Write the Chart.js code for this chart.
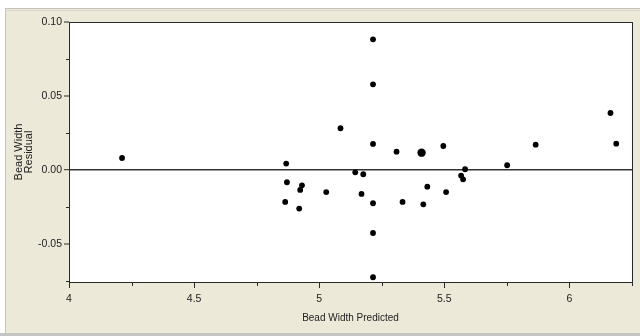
<!DOCTYPE html>
<html>
<head>
<meta charset="utf-8">
<script src="https://cdn.jsdelivr.net/npm/chart.js@4"></script>
<style>
  html, body { margin: 0; padding: 0; background: #fff; }
  #wrap { width: 640px; height: 336px; }
</style>
</head>
<body>
<div id="wrap"><canvas id="c" width="640" height="336"></canvas></div>
<script>
// ---- data ----
const predicted = [4.212, 4.868, 4.871, 4.864, 4.931, 4.924, 4.920, 5.028, 5.085, 5.144, 5.176, 5.169,
  5.215, 5.215, 5.215, 5.215, 5.215, 5.215, 5.309, 5.409, 5.496, 5.333, 5.416, 5.432, 5.507,
  5.583, 5.567, 5.575, 5.751, 5.865, 6.164, 6.187];
const residual = [0.0081, 0.0043, -0.0083, -0.0216, -0.0104, -0.0135, -0.0261, -0.0149, 0.0282, -0.0016, -0.0029, -0.0162,
  0.0176, -0.0225, -0.0426, -0.0725, 0.0883, 0.0579, 0.0124, 0.0117, 0.0162, -0.0216, -0.0232, -0.0113, -0.0149,
  0.0005, -0.0038, -0.0063, 0.0032, 0.0171, 0.0385, 0.0178];
const overlapCount = [1,1,1,1,1,1,1,1,1,1,1,1, 1,1,1,1,1,1,1,2,1,1,1,1,1, 1,1,1,1,1,1,1];

const xMajorTicks = [4, 4.5, 5, 5.5, 6];
const xTickLabels = ['4', '4.5', '5', '5.5', '6'];
const xMinorTicks = [4.25, 4.75, 5.25, 5.75, 6.25];
const yMajorTicks = [0.10, 0.05, 0, -0.05];
const yTickLabels = ['0.10', '0.05', '0.00', '-0.05'];
const yMinorTicks = [0.075, 0.025, -0.025, -0.075];
const xRange = [4, 6.25];
const yRange = [-0.0757, 0.10];
const xTitle = 'Bead Width Predicted';
const yTitle = ['Bead Width', 'Residual'];

const points = predicted.map((x, i) => ({ x: x, y: residual[i], n: overlapCount[i] }));

const AXIS = '#2a2a2a';
const FONT = "'Liberation Sans', Arial, sans-serif";

const frame = {
  id: 'frame',
  beforeDraw(chart) {
    const c = chart.ctx;
    c.save();
    c.fillStyle = '#ffffff';
    c.fillRect(0, 0, 640, 336);
    c.fillStyle = '#ECE9D8';
    c.fillRect(5, 8, 635, 325);
    c.fillStyle = '#C6C4BA';
    c.fillRect(5, 8, 635, 1);
    c.fillRect(5, 8, 1, 325);
    c.fillStyle = '#DAD8CE';
    c.fillRect(5, 10, 635, 1);
    c.fillStyle = '#C4C4C4';
    c.fillRect(0, 333, 640, 3);
    const a = chart.chartArea;
    c.fillStyle = '#ffffff';
    c.fillRect(a.left, a.top, a.right - a.left, a.bottom - a.top);
    c.restore();
  },
  afterDatasetsDraw(chart) {
    const c = chart.ctx;
    const a = chart.chartArea;
    const xs = chart.scales.x, ys = chart.scales.y;
    const L = Math.round(a.left), R = Math.round(a.right), T = Math.round(a.top), B = Math.round(a.bottom);
    c.save();
    c.fillStyle = AXIS;
    c.fillRect(L, T, R - L + 1, 1);       // top
    c.fillRect(L, B, R - L + 1, 1);       // bottom axis
    c.fillRect(L, T, 1, B - T + 1);       // left axis
    c.fillRect(R, T, 1, B - T + 1);       // right
    xMinorTicks.forEach(v => {
      const px = Math.round(xs.getPixelForValue(v));
      c.fillRect(Math.min(px, R), B, 1, 4);
    });
    yMinorTicks.forEach(v => {
      const py = Math.round(ys.getPixelForValue(v));
      c.fillRect(L - 3, Math.min(py, B), 3, 1);
    });
    c.restore();
  }
};

new Chart(document.getElementById('c'), {
  type: 'scatter',
  data: {
    datasets: [{
      data: points,
      backgroundColor: '#000',
      borderColor: '#000',
      borderWidth: 0,
      pointRadius: ctx => (ctx.raw && ctx.raw.n > 1) ? 4.2 : 2.9,
      pointHoverRadius: ctx => (ctx.raw && ctx.raw.n > 1) ? 4.2 : 2.9
    }]
  },
  options: {
    responsive: false,
    animation: false,
    devicePixelRatio: 1,
    layout: { padding: { top: 22, right: 8, left: 0, bottom: 0 } },
    plugins: { legend: { display: false }, tooltip: { enabled: false } },
    scales: {
      x: {
        type: 'linear',
        min: xRange[0], max: xRange[1],
        afterFit: s => { s.height = 54; },
        afterBuildTicks: s => { s.ticks = xMajorTicks.map(v => ({ value: v })); },
        border: { display: false },
        grid: { drawOnChartArea: false, drawTicks: true, tickLength: 6, tickColor: AXIS, tickWidth: 1 },
        ticks: {
          autoSkip: false, maxRotation: 0, padding: 5,
          color: '#222', font: { family: FONT, size: 10.5 },
          callback: (v, i) => xTickLabels[i]
        },
        title: {
          display: true, text: xTitle, color: '#222',
          font: { family: FONT, size: 10 }, padding: { top: 0, bottom: 12 }
        }
      },
      y: {
        type: 'linear',
        min: yRange[0], max: yRange[1],
        afterFit: s => { s.width = 69; },
        afterBuildTicks: s => { s.ticks = yMajorTicks.map(v => ({ value: v })); },
        border: { display: false },
        grid: {
          drawOnChartArea: true, drawTicks: true, tickLength: 5, tickColor: AXIS, tickWidth: 1,
          color: ctx => (ctx.tick && ctx.tick.value === 0) ? '#333' : 'rgba(0,0,0,0)',
          lineWidth: ctx => (ctx.tick && ctx.tick.value === 0) ? 1.4 : 0
        },
        ticks: {
          autoSkip: false, padding: 2,
          color: '#222', font: { family: FONT, size: 10.5 },
          callback: (v, i) => yTickLabels[i]
        },
        title: {
          display: true, text: yTitle, color: '#222',
          font: { family: FONT, size: 11, lineHeight: 0.92 }, padding: { top: 14, bottom: 0 }
        }
      }
    }
  },
  plugins: [frame]
});
</script>
</body>
</html>
